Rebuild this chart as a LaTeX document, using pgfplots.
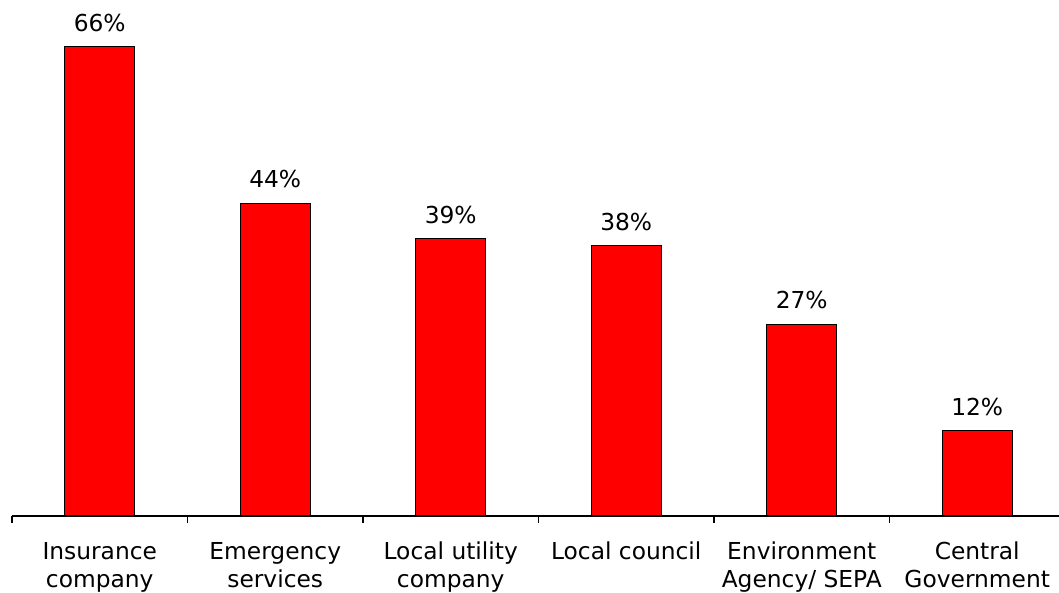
\documentclass[border=0pt]{standalone}
\usepackage{fontspec}
\setmainfont{DejaVu Sans}
\usepackage{pgfplots}
\pgfplotsset{compat=1.18}
\begin{document}
\begin{tikzpicture}
\begin{axis}[name=ax, scale only axis, width=785.25pt, height=387pt,
  xmin=-0.5, xmax=5.466, ymin=0, ymax=72.6,
  axis y line=none, axis x line*=bottom,
  axis line style={black, line width=0.8pt},
  xtick={0,1,2,3,4,5},
  xticklabels={{Insurance\\company},{Emergency\\services},{Local utility\\company},{Local council},{Environment\\Agency/ SEPA},{Central\\Government}},
  major tick length=0pt,
  xticklabel style={align=center, font=\fontsize{17.5}{21}\selectfont, anchor=north, inner sep=0pt, yshift=-19.5pt},
  extra x ticks={-0.5,0.5,1.5,2.5,3.5,4.5},
  extra x tick labels={},
  extra x tick style={major tick length=5.25pt, tick align=outside, tick style={black, line width=0.8pt}},
  ybar, bar width=52.5pt,
  nodes near coords={\pgfmathprintnumber[assume math mode=true]{\pgfplotspointmeta}\%},
  nodes near coords style={font=\fontsize{17.5}{21}\selectfont, anchor=base, inner sep=0pt, yshift=11.5pt},
  clip=false,
]
\addplot[ybar, fill=red, draw=black, line width=0.8pt] coordinates {(0,66) (1,44) (2,39) (3,38) (4,27) (5,12)};
\end{axis}
\pgfresetboundingbox
\path[use as bounding box] ([xshift=-9pt,yshift=-57.75pt]ax.south west) rectangle (ax.north east);
\end{tikzpicture}
\end{document}
